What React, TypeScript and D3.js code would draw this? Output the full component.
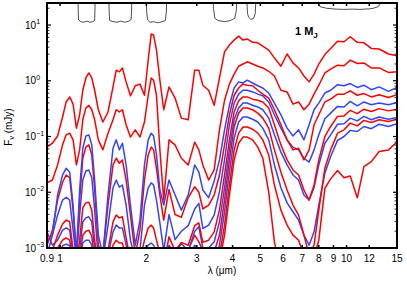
import React from 'react';
import * as d3 from 'd3';

// wavelength grid (micron)
const WAVELENGTHS = [0.90,0.94,0.98,1.02,1.05,1.08,1.11,1.14,1.17,1.20,1.23,1.26,1.29,1.32,1.36,1.41,1.47,1.53,1.57,1.61,1.65,1.70,1.76,1.83,1.90,1.97,2.03,2.08,2.12,2.17,2.23,2.30,2.40,2.52,2.65,2.80,2.95,3.05,3.15,3.30,3.45,3.60,3.75,3.90,4.05,4.20,4.35,4.50,4.70,4.90,5.10,5.35,5.60,5.90,6.20,6.50,6.80,7.10,7.40,7.70,8.00,8.40,8.80,9.30,9.80,10.3,10.9,11.5,12.2,13.0,14.0,15.0];

// log10 flux (mJy)
const RED_A = [-1.19,-1.12,-0.99,-0.65,-0.38,-0.29,-0.42,-0.85,-0.61,-0.17,0.05,0.14,
  0.05,-0.17,-0.52,-0.74,-0.56,-0.11,0.19,0.16,0.23,-0.02,-0.27,-0.09,
  -0.06,-0.26,0.37,0.84,0.82,0.55,0.01,-0.52,-0.11,-0.31,-0.67,-0.70,
  0.19,0.19,-0.08,-0.17,-0.44,0.05,0.52,0.64,0.73,0.80,0.73,0.75,
  0.69,0.68,0.62,0.55,0.41,0.26,0.48,0.32,0.23,0.085,-0.02,0.12,
  0.30,0.47,0.58,0.71,0.70,0.79,0.69,0.68,0.58,0.57,0.48,0.45];
const RED_B = [-1.83,-1.78,-1.51,-1.15,-0.97,-0.94,-1.06,-1.51,-1.24,-0.70,-0.49,-0.44,
  -0.52,-0.70,-1.06,-1.24,-0.94,-0.70,-0.52,-0.56,-0.52,-0.79,-1.01,-0.88,
  -1.01,-0.74,-0.26,0.05,0.01,-0.26,-1.24,-2.14,-1.06,-1.15,-1.39,-1.51,
  -1.10,-1.24,-1.51,-1.78,-1.60,-0.88,-0.35,-0.06,0.12,0.26,0.30,0.34,
  0.30,0.26,0.23,0.17,0.085,-0.17,-0.20,-0.42,-0.38,-0.52,-0.42,-0.24,
  -0.08,0.14,0.21,0.28,0.27,0.37,0.31,0.32,0.23,0.23,0.15,0.16];
const BLUE_1 = [-3.13,-2.77,-2.05,-1.69,-1.57,-1.64,-2.23,-3.13,-1.96,-1.21,-0.99,-0.97,
  -1.15,-1.78,-2.77,-3.13,-2.05,-1.21,-1.06,-1.24,-1.12,-1.51,-2.23,-2.95,
  -2.50,-1.51,-1.06,-0.94,-0.99,-1.33,-1.96,-2.23,-1.78,-2.05,-2.32,-2.05,
  -1.51,-1.64,-1.96,-2.10,-1.80,-1.42,-0.88,-0.44,-0.13,-0.02,-0.04,0.01,
  -0.04,-0.09,-0.13,-0.22,-0.40,-0.61,-0.85,-0.99,-0.88,-1.06,-0.79,-0.52,
  -0.40,-0.22,-0.17,-0.07,-0.09,-0.05,-0.12,-0.08,-0.16,-0.11,-0.19,-0.12];
const RED_C = [-2.95,-2.68,-2.14,-1.82,-1.69,-1.74,-2.32,-3.13,-2.14,-1.39,-1.19,-1.15,
  -1.33,-1.96,-2.95,-3.13,-2.23,-1.51,-1.39,-1.48,-1.42,-1.78,-2.41,-3.13,
  -2.68,-1.78,-1.33,-1.19,-1.24,-1.57,-2.05,-2.50,-1.95,-2.40,-2.45,-2.10,
  -1.90,-2.00,-2.30,-2.23,-2.05,-1.69,-1.15,-0.61,-0.26,-0.13,-0.06,-0.08,
  -0.09,-0.17,-0.24,-0.31,-0.52,-0.79,-1.06,-1.24,-1.21,-1.42,-1.24,-0.79,
  -0.61,-0.38,-0.33,-0.24,-0.24,-0.18,-0.26,-0.23,-0.29,-0.25,-0.30,-0.25];
const BLUE_2 = [-2.86,-2.77,-2.41,-2.14,-2.09,-2.14,-2.68,-3.22,-2.41,-1.78,-1.62,-1.60,
  -1.74,-2.32,-3.22,-3.22,-2.59,-1.92,-1.78,-1.91,-1.87,-2.23,-2.86,-3.22,
  -3.04,-2.23,-1.92,-1.83,-1.87,-2.14,-2.55,-3.05,-2.40,-2.85,-2.70,-2.60,
  -2.30,-2.20,-2.65,-2.59,-2.41,-1.99,-1.42,-0.79,-0.40,-0.24,-0.17,-0.17,
  -0.20,-0.24,-0.27,-0.38,-0.61,-0.85,-1.06,-1.19,-1.24,-1.39,-1.46,-1.24,
  -0.97,-0.68,-0.58,-0.46,-0.47,-0.37,-0.45,-0.38,-0.43,-0.40,-0.43,-0.39];
const RED_D = [-3.22,-3.04,-2.77,-2.57,-2.50,-2.53,-3.04,-3.31,-2.86,-2.28,-2.19,-2.18,
  -2.32,-2.86,-3.31,-3.31,-3.04,-2.53,-2.41,-2.46,-2.44,-2.82,-3.22,-3.31,
  -3.22,-2.86,-2.64,-2.59,-2.64,-2.86,-3.10,-3.30,-2.80,-3.05,-2.90,-2.95,
  -2.60,-2.55,-2.90,-2.86,-2.71,-2.32,-1.69,-1.06,-0.56,-0.36,-0.29,-0.29,
  -0.33,-0.35,-0.38,-0.49,-0.79,-1.15,-1.42,-1.60,-1.69,-1.96,-2.14,-1.87,
  -1.42,-1.00,-0.82,-0.64,-0.63,-0.53,-0.59,-0.51,-0.55,-0.50,-0.54,-0.51];
const BLUE_3 = [-2.71,-2.95,-2.86,-2.68,-2.64,-2.68,-3.13,-3.40,-3.04,-2.53,-2.46,-2.44,
  -2.53,-3.04,-3.40,-3.40,-3.13,-2.71,-2.59,-2.64,-2.64,-2.95,-3.31,-3.40,
  -3.31,-3.04,-2.95,-2.91,-2.95,-3.07,-3.25,-3.40,-2.95,-3.10,-2.92,-3.05,
  -2.70,-2.62,-3.00,-3.00,-2.89,-2.53,-1.92,-1.24,-0.70,-0.49,-0.40,-0.40,
  -0.44,-0.47,-0.52,-0.67,-0.97,-1.28,-1.51,-1.69,-1.78,-2.05,-2.14,-1.92,
  -1.51,-1.12,-0.97,-0.78,-0.77,-0.67,-0.72,-0.64,-0.70,-0.65,-0.69,-0.66];
const RED_E = [-3.40,-3.25,-3.00,-2.86,-2.82,-2.86,-3.25,-3.48,-3.18,-2.77,-2.70,-2.68,
  -2.79,-3.22,-3.48,-3.48,-3.31,-2.95,-2.86,-2.91,-2.91,-3.18,-3.43,-3.48,
  -3.43,-3.25,-3.14,-3.09,-3.13,-3.25,-3.43,-3.43,-3.22,-3.13,-3.25,-3.04,
  -2.77,-2.89,-3.04,-3.18,-3.07,-2.77,-2.14,-1.42,-0.83,-0.58,-0.49,-0.49,
  -0.52,-0.58,-0.67,-0.85,-1.24,-1.64,-1.96,-2.23,-2.41,-2.77,-3.13,-2.95,
  -2.32,-1.57,-1.24,-0.94,-0.88,-0.76,-0.81,-0.71,-0.75,-0.70,-0.73,-0.69];
const BLUE_4 = [-3.48,-3.36,-3.13,-2.96,-2.93,-2.96,-3.36,-3.57,-3.31,-2.91,-2.86,-2.86,
  -2.95,-3.31,-3.57,-3.57,-3.43,-3.13,-3.04,-3.07,-3.09,-3.31,-3.54,-3.57,
  -3.54,-3.40,-3.31,-3.25,-3.29,-3.40,-3.54,-3.54,-3.36,-3.25,-3.36,-3.18,
  -2.95,-3.04,-3.18,-3.31,-3.22,-2.95,-2.35,-1.64,-1.03,-0.74,-0.65,-0.65,
  -0.69,-0.74,-0.85,-1.06,-1.51,-1.92,-2.19,-2.35,-2.50,-2.77,-2.95,-2.71,
  -2.23,-1.66,-1.36,-1.07,-1.00,-0.89,-0.91,-0.82,-0.86,-0.78,-0.82,-0.77];
const RED_F = [-3.84,-3.75,-3.48,-3.25,-3.18,-3.22,-3.57,-3.75,-3.48,-3.13,-3.05,-3.04,
  -3.14,-3.48,-3.75,-3.75,-3.57,-3.31,-3.22,-3.25,-3.27,-3.48,-3.72,-3.75,
  -3.72,-3.57,-3.48,-3.43,-3.47,-3.57,-3.72,-3.72,-3.54,-3.43,-3.54,-3.36,
  -3.13,-3.22,-3.36,-3.43,-3.36,-3.13,-2.59,-1.87,-1.24,-0.94,-0.83,-0.83,
  -0.87,-0.94,-1.06,-1.33,-1.87,-2.32,-2.59,-2.77,-2.86,-3.13,-3.31,-3.18,
  -2.86,-1.93,-1.76,-1.61,-1.74,-1.71,-2.10,-1.54,-1.45,-1.27,-1.24,-1.10];
const RED_G = [-3.9,-3.8,-3.6,-3.45,-3.4,-3.42,-3.7,-3.85,-3.6,-3.35,-3.3,-3.3,
  -3.4,-3.7,-3.9,-3.9,-3.75,-3.5,-3.45,-3.48,-3.5,-3.7,-3.9,-3.9,
  -3.9,-3.75,-3.65,-3.6,-3.62,-3.72,-3.9,-3.9,-3.75,-3.65,-3.75,-3.6,
  -3.4,-3.5,-3.6,-3.57,-3.48,-3.25,-2.77,-2.05,-1.42,-1.12,-1.01,-1.01,
  -1.06,-1.19,-1.39,-2.0,-2.9,-3.4,-3.5,-3.6,-3.6,-3.8,-3.9,-3.8,
  -3.6,-3.4,-3.3,-3.25,-3.25,-3.2,-3.2,-3.2,-3.2,-3.2,-3.2,-3.2];

const RED = '#ff0000';
const BLUE = '#3344ff';
const SERIES_ORDER = [
  { values: RED_G, color: RED },
  { values: RED_F, color: RED },
  { values: BLUE_4, color: BLUE },
  { values: RED_E, color: RED },
  { values: BLUE_3, color: BLUE },
  { values: RED_D, color: RED },
  { values: BLUE_2, color: BLUE },
  { values: RED_C, color: RED },
  { values: BLUE_1, color: BLUE },
  { values: RED_B, color: RED },
  { values: RED_A, color: RED },
];

// filter transmission outlines: [wavelength, log10 flux position]
const FILTER_J = [[1.155,1.5],[1.157,1.25],[1.16,1.09],[1.18,1.06],[1.21,1.05],[1.24,1.07],[1.27,1.05],[1.30,1.06],[1.32,1.08],[1.323,1.25],[1.326,1.5]];
const FILTER_H = [[1.48,1.5],[1.483,1.25],[1.49,1.08],[1.53,1.06],[1.58,1.05],[1.63,1.07],[1.68,1.05],[1.74,1.07],[1.77,1.10],[1.776,1.25],[1.78,1.5]];
const FILTER_K = [[2.0,1.5],[2.005,1.25],[2.02,1.09],[2.06,1.05],[2.12,1.06],[2.2,1.04],[2.27,1.06],[2.33,1.08],[2.35,1.25],[2.355,1.5]];
const FILTER_L = [[3.42,1.5],[3.43,1.3],[3.47,1.12],[3.56,1.08],[3.76,1.06],[3.92,1.08],[4.07,1.12],[4.12,1.25],[4.14,1.5]];
const FILTER_M = [[4.48,1.5],[4.51,1.21],[4.55,1.14],[4.64,1.10],[4.74,1.12],[4.80,1.21],[4.83,1.5]];
const FILTER_N = [[7.86,1.45],[7.95,1.39],[8.07,1.33],[8.52,1.30],[9.2,1.285],[9.74,1.28],[10.5,1.285],[11.14,1.28],[12.0,1.29],[12.39,1.30],[12.9,1.33],[13.1,1.38],[13.25,1.45]];
const FILTERS = [FILTER_J, FILTER_H, FILTER_K, FILTER_L, FILTER_M, FILTER_N];

const X_TICKS = [0.9, 1, 2, 3, 4, 5, 6, 7, 8, 9, 10, 12, 15];
const X_TICK_LABELS = ['0.9', '1', '2', '3', '4', '5', '6', '7', '8', '9', '10', '12', '15'];
const Y_TICK_EXPONENTS = [-3, -2, -1, 0, 1];
const Y_TICK_LABELS = ['\u22123', '\u22122', '\u22121', '0', '1'];

const W = 407, H = 281;
const LEFT = 47, RIGHT = 397, TOP = 3, BOTTOM = 248;
const FONT = 'Liberation Sans, Arial, Helvetica, sans-serif';

export default function App() {
  const x = d3.scaleLog().domain([0.9, 15]).range([LEFT, RIGHT]);
  const y = d3.scaleLog().domain([1e-3, Math.pow(10, 1.395)]).range([BOTTOM, TOP]);

  const line = d3.line<number>()
    .x((_, i) => x(WAVELENGTHS[i]))
    .y((v) => y(Math.pow(10, v)));
  const fline = d3.line<number[]>()
    .x((d) => x(d[0]))
    .y((d) => y(Math.pow(10, d[1])));

  const minor: number[] = [];
  for (let e = -3; e <= 1; e++) {
    for (let m = 2; m <= 9; m++) {
      const v = m * Math.pow(10, e);
      if (v < Math.pow(10, 1.395)) minor.push(v);
    }
  }

  return (
    <svg width={W} height={H} style={{ position: 'absolute', left: 0, top: 0, background: '#fff' }} fontFamily={FONT}>
      <defs>
        <clipPath id="plotclip">
          <rect x={LEFT} y={TOP} width={RIGHT - LEFT} height={BOTTOM - TOP} />
        </clipPath>
      </defs>
      <g clipPath="url(#plotclip)">
        {SERIES_ORDER.map((s, i) => (
          <path key={i} d={line(s.values) || ''} fill="none" stroke={s.color} strokeWidth={1.5} strokeLinejoin="round" />
        ))}
        {FILTERS.map((f, i) => (
          <path key={'f' + i} d={fline(f as number[][]) || ''} fill="none" stroke="#222" strokeWidth={0.8} />
        ))}
      </g>
      {X_TICKS.map((t, i) => (
        <g key={'xt' + i}>
          <line x1={x(t)} x2={x(t)} y1={BOTTOM} y2={BOTTOM - 3} stroke="#000" strokeWidth={1.5} />
          <line x1={x(t)} x2={x(t)} y1={TOP} y2={TOP + 3} stroke="#000" strokeWidth={1.5} />
          <text x={x(t)} y={262} fontSize={10} textAnchor="middle">{X_TICK_LABELS[i]}</text>
        </g>
      ))}
      {Y_TICK_EXPONENTS.map((e, i) => {
        const yy = y(Math.pow(10, e));
        return (
          <g key={'yt' + i}>
            <line x1={LEFT} x2={LEFT + 4} y1={yy} y2={yy} stroke="#000" strokeWidth={1.2} />
            <line x1={RIGHT} x2={RIGHT - 4} y1={yy} y2={yy} stroke="#000" strokeWidth={1.2} />
            <text x={25} y={yy + 3.5} fontSize={10}>
              10<tspan dy={-4.5} fontSize={7}>{Y_TICK_LABELS[i]}</tspan>
            </text>
          </g>
        );
      })}
      {minor.map((v, i) => (
        <g key={'ym' + i}>
          <line x1={LEFT} x2={LEFT + 2.5} y1={y(v)} y2={y(v)} stroke="#000" strokeWidth={0.8} />
          <line x1={RIGHT} x2={RIGHT - 2.5} y1={y(v)} y2={y(v)} stroke="#000" strokeWidth={0.8} />
        </g>
      ))}
      <rect x={LEFT} y={TOP} width={RIGHT - LEFT} height={BOTTOM - TOP} fill="none" stroke="#000" strokeWidth={2} />
      <text x={295} y={35} fontSize={11} fontWeight="bold">
        1 M<tspan dy={3} fontSize={8}>J</tspan>
      </text>
      <text x={222} y={274} fontSize={10} textAnchor="middle">{'\u03bb (\u03bcm)'}</text>
      <text transform="translate(11.5,127) rotate(-90)" fontSize={10} textAnchor="middle">
        F<tspan dy={2.5} fontSize={7}>{'\u03bd'}</tspan><tspan dy={-2.5}>{' (mJy)'}</tspan>
      </text>
    </svg>
  );
}
